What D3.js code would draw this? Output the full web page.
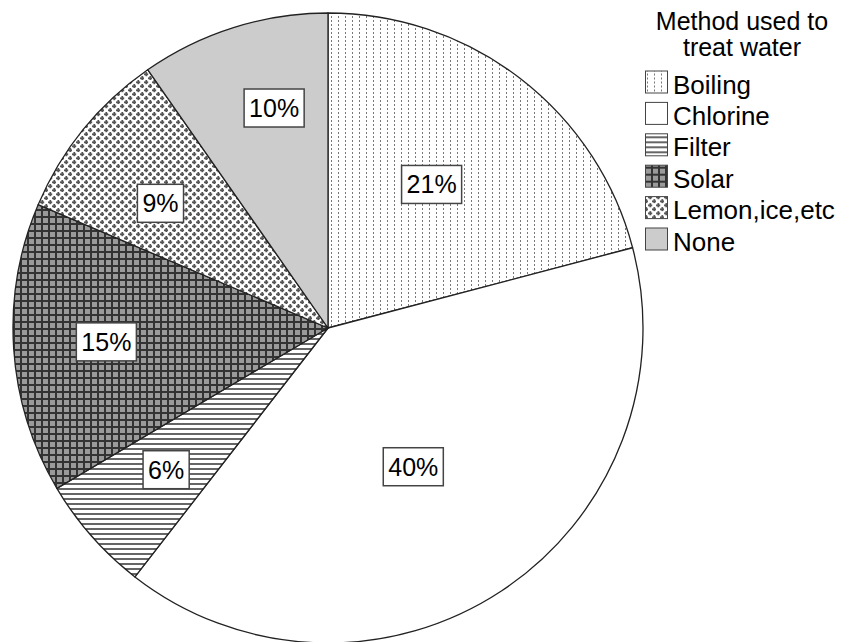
<!DOCTYPE html>
<html>
<head>
<meta charset="utf-8">
<script src="https://cdn.jsdelivr.net/npm/d3@7"></script>
<style>
  html, body { margin: 0; padding: 0; background: #fff; }
  svg { display: block; font-family: "Liberation Sans", Arial, sans-serif; }
</style>
</head>
<body>
<svg id="chart" width="841" height="642"></svg>
<script>
// ---- data ----
const categories = ["Boiling", "Chlorine", "Filter", "Solar", "Lemon,ice,etc", "None"];
const values = [20.9, 39.6, 6.0, 14.9, 8.9, 9.7];
const legendTitle = ["Method used to", "treat water"];

// ---- layout (not data) ----
const labelRadius = [0.562, 0.517, 0.683, 0.705, 0.663, 0.719];
const labelShiftDeg = [-1.8, 1.9, 0.2, 0.2, -2.4, 3.7];
const fills = ["url(#pBoiling)", "#ffffff", "url(#pFilter)", "url(#pSolar)", "url(#pLemon)", "#cccccc"];

const svg = d3.select("#chart");
const cx = 328, cy = 328, R = 315;

// ---- patterns ----
const defs = svg.append("defs");
let p = defs.append("pattern").attr("id", "pBoiling").attr("patternUnits", "userSpaceOnUse")
  .attr("width", 7).attr("height", 4);
p.append("rect").attr("width", 7).attr("height", 4).attr("fill", "#fff");
p.append("rect").attr("x", 3).attr("y", 0).attr("width", 1).attr("height", 2).attr("fill", "#777");

p = defs.append("pattern").attr("id", "pFilter").attr("patternUnits", "userSpaceOnUse")
  .attr("width", 5).attr("height", 5);
p.append("rect").attr("width", 5).attr("height", 5).attr("fill", "#fff");
p.append("rect").attr("x", 0).attr("y", 0).attr("width", 5).attr("height", 2).attr("fill", "#666");

p = defs.append("pattern").attr("id", "pSolar").attr("patternUnits", "userSpaceOnUse")
  .attr("width", 7).attr("height", 7);
p.append("rect").attr("width", 7).attr("height", 7).attr("fill", "#9a9a9a");
p.append("rect").attr("x", 0).attr("y", 0).attr("width", 7).attr("height", 2).attr("fill", "#333");
p.append("rect").attr("x", 0).attr("y", 0).attr("width", 2).attr("height", 7).attr("fill", "#333");

p = defs.append("pattern").attr("id", "pLemon").attr("patternUnits", "userSpaceOnUse")
  .attr("width", 8).attr("height", 8);
p.append("rect").attr("width", 8).attr("height", 8).attr("fill", "#fff");
[[2, 2], [6, 6]].forEach(([x, y]) => {
  p.append("rect").attr("x", x - 2).attr("y", y - 0.6).attr("width", 4.2).attr("height", 1.8).attr("fill", "#555");
  p.append("rect").attr("x", x - 0.6).attr("y", y - 2).attr("width", 1.8).attr("height", 4.2).attr("fill", "#555");
});

// ---- pie ----
const pie = d3.pie().sort(null).value(d => d.value);
const arcs = pie(categories.map((c, i) => ({ cat: c, value: values[i], i })));
const arc = d3.arc().innerRadius(0).outerRadius(R);

const g = svg.append("g").attr("transform", `translate(${cx},${cy})`);
g.selectAll("path.slice").data(arcs).enter().append("path")
  .attr("class", "slice")
  .attr("d", arc)
  .attr("fill", d => fills[d.data.i])
  .attr("stroke", "#222")
  .attr("stroke-width", 1.3)
  .attr("stroke-linejoin", "round");

// ---- labels ----
const fmt = v => Math.round(v) + "%";
arcs.forEach(d => {
  const i = d.data.i;
  const a = (d.startAngle + d.endAngle) / 2 + labelShiftDeg[i] * Math.PI / 180;
  const r = labelRadius[i] * R;
  const x = r * Math.sin(a), y = -r * Math.cos(a);
  const lg = g.append("g").attr("transform", `translate(${x},${y})`);
  const rect = lg.append("rect");
  const t = lg.append("text")
    .attr("text-anchor", "middle").attr("dy", "0.36em")
    .attr("font-size", 25).attr("fill", "#000")
    .text(fmt(d.data.value));
  const bb = t.node().getBBox();
  const padX = 5, h = 38;
  rect.attr("x", -bb.width / 2 - padX).attr("y", -h / 2)
    .attr("width", bb.width + 2 * padX).attr("height", h)
    .attr("fill", "#fff").attr("stroke", "#444").attr("stroke-width", 1.5);
});

// ---- legend ----
const leg = svg.append("g");
leg.selectAll("text.title").data(legendTitle).enter().append("text")
  .attr("class", "title")
  .attr("x", 742).attr("y", (d, i) => 30 + i * 26)
  .attr("text-anchor", "middle").attr("font-size", 25).attr("fill", "#000")
  .text(d => d);

const rowY = d3.scalePoint().domain(categories).range([93.5, 93.5 + 31.4 * 5]);
const items = leg.selectAll("g.item").data(categories).enter().append("g")
  .attr("class", "item")
  .attr("transform", d => `translate(0,${rowY(d)})`);
items.append("rect")
  .attr("x", 645.5).attr("y", -22.5).attr("width", 22).attr("height", 22)
  .attr("fill", (d, i) => fills[i]).attr("stroke", "#444").attr("stroke-width", 1);
items.append("text")
  .attr("x", 673).attr("y", 0)
  .attr("font-size", 26).attr("fill", "#000")
  .text(d => d);
</script>
</body>
</html>
